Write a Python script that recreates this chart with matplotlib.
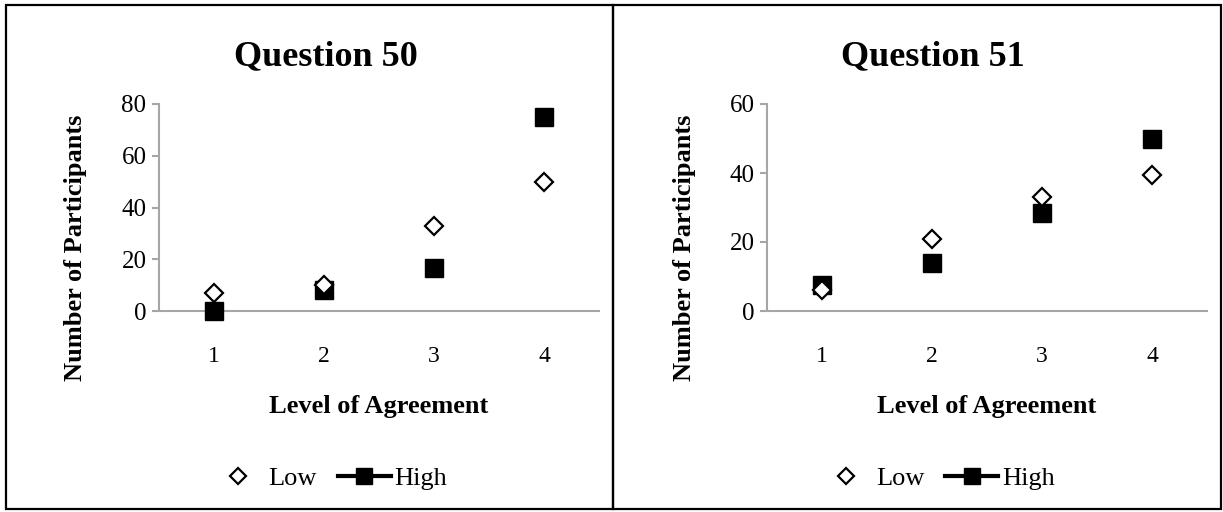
import matplotlib
matplotlib.use("Agg")
import matplotlib.pyplot as plt
from matplotlib.lines import Line2D
from matplotlib.patches import Rectangle

plt.rcParams['font.family'] = ['Liberation Serif', 'DejaVu Serif']

# data
levels = [1, 2, 3, 4]
titles = ["Question 50", "Question 51"]
q50_low = [7, 10, 33, 50]
q50_high = [0, 8, 16.5, 75]
q51_low = [6, 21, 33, 39.5]
q51_high = [7.5, 14, 28.5, 50]
y_max = [80, 60]
y_ticks = [[0, 20, 40, 60, 80], [0, 20, 40, 60]]

W, H = 1223, 512
fig = plt.figure(figsize=(W / 100, H / 100), dpi=100)

grey = '#a6a6a6'
panels = [(6, 613), (613, 1221)]
axes_left = [159, 767]
series = [(q50_low, q50_high), (q51_low, q51_high)]

for i in range(2):
    px0, px1 = panels[i]
    # panel frame
    fig.patches.append(Rectangle((px0 / W, 1 - 509 / H), (px1 - px0) / W, 504 / H,
                                 transform=fig.transFigure, fill=False,
                                 edgecolor='black', linewidth=1.6))

    ax = fig.add_axes([axes_left[i] / W, 1 - 311 / H, 440 / W, 207 / H])
    low, high = series[i]
    ax.plot(levels, high, linestyle='none', marker='s', markersize=12.5,
            color='black', clip_on=False, zorder=3)
    ax.plot(levels, low, linestyle='none', marker='D', markersize=9,
            markerfacecolor='white', markeredgecolor='black', markeredgewidth=1.6,
            clip_on=False, zorder=4)

    ax.set_xlim(0.5, 4.5)
    ax.set_ylim(0, y_max[i])
    ax.set_xticks(levels)
    ax.set_yticks(y_ticks[i])
    for s in ['top', 'right']:
        ax.spines[s].set_visible(False)
    for s in ['left', 'bottom']:
        ax.spines[s].set_color(grey)
        ax.spines[s].set_linewidth(1.5)
    ax.tick_params(axis='y', length=5, width=1.5, color=grey, labelsize=18, pad=4)
    ax.tick_params(axis='x', length=0, labelsize=17, pad=25)

    cx = (px0 + px1) / 2
    fig.text((cx + 16) / W, 1 - 65 / H, titles[i], ha='center', va='baseline',
             fontsize=26, fontweight='bold')
    fig.text((axes_left[i] + 220) / W, 1 - 406 / H, "Level of Agreement",
             ha='center', va='center', fontsize=19, fontweight='bold')
    fig.text((axes_left[i] - 83) / W, 1 - 248 / H, "Number of Participants",
             ha='center', va='center', rotation=90, fontsize=19, fontweight='bold')

    handles = [Line2D([], [], linestyle='none', marker='D', markersize=8,
                      markerfacecolor='white', markeredgecolor='black', markeredgewidth=1.6),
               Line2D([], [], color='black', linewidth=3, marker='s', markersize=11)]
    fig.legend(handles, ["Low", "High"], loc='center',
               bbox_to_anchor=((cx + 20) / W, 1 - 478 / H), ncol=2, frameon=False,
               fontsize=19, handlelength=2.0, columnspacing=0.8, handletextpad=0.15)

fig.savefig("out.png", dpi=100)
